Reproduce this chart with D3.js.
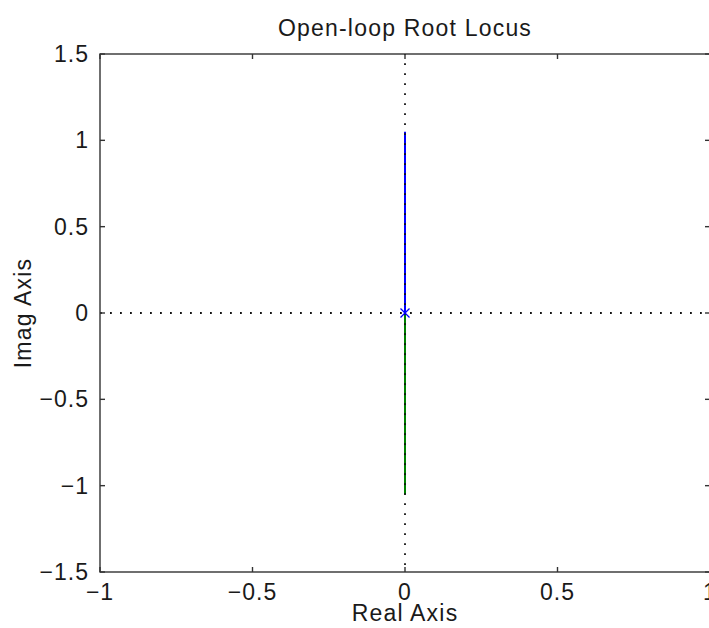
<!DOCTYPE html>
<html>
<head>
<meta charset="utf-8">
<script src="https://cdn.jsdelivr.net/npm/d3@7"></script>
<style>
  html, body { margin: 0; padding: 0; background: #fff; }
  svg text { font-family: "Liberation Sans", Arial, sans-serif; fill: #1a1a1a; }
</style>
</head>
<body>
<svg id="chart" width="709" height="628"></svg>
<script>
// Root locus branches (real, imag) for the open-loop system
const branchUpper = [[0, 0], [0, 0.25], [0, 0.5], [0, 0.75], [0, 1.05]];
const branchLower = [[0, 0], [0, -0.25], [0, -0.5], [0, -0.75], [0, -1.05]];
const poles = [[0, 0]];
const xTicks = [-1, -0.5, 0, 0.5, 1];
const yTicks = [-1.5, -1, -0.5, 0, 0.5, 1, 1.5];
const xDomain = [-1, 1];
const yDomain = [-1.5, 1.5];

const svg = d3.select("#chart");
const margin = { left: 100, top: 54, right: -1, bottom: 56 };
const W = 709, H = 628;
const x = d3.scaleLinear().domain(xDomain).range([margin.left, W - margin.right]);
const y = d3.scaleLinear().domain(yDomain).range([H - margin.bottom, margin.top]);

const fmt = v => (v < 0 ? "\u2212" : "") + String(Math.abs(v));
const FS = 23;

// Dotted axis through the origin (horizontal)
svg.append("line")
  .attr("x1", x(xDomain[0])).attr("x2", x(xDomain[1]))
  .attr("y1", y(0)).attr("y2", y(0))
  .attr("stroke", "#111").attr("stroke-width", 1.8)
  .attr("stroke-dasharray", "1.8,8.2");

// Locus branches
const line = d3.line().x(d => x(d[0])).y(d => y(d[1]));
svg.append("path").datum(branchUpper).attr("d", line)
  .attr("fill", "none").attr("stroke", "#0000ff").attr("stroke-width", 2);
svg.append("path").datum(branchLower).attr("d", line)
  .attr("fill", "none").attr("stroke", "#008000").attr("stroke-width", 2);

// Dotted axis through the origin (vertical), drawn over the branches
svg.append("line")
  .attr("x1", x(0)).attr("x2", x(0))
  .attr("y1", y(yDomain[0])).attr("y2", y(yDomain[1]))
  .attr("stroke", "#111").attr("stroke-width", 1.8)
  .attr("stroke-dasharray", "1.8,8.2")
  .attr("stroke-dashoffset", 3);

// Open-loop poles
const s = 4.5;
poles.forEach(p => {
  const cx = x(p[0]), cy = y(p[1]);
  svg.append("path")
    .attr("d", `M${cx - s},${cy - s}L${cx + s},${cy + s}M${cx - s},${cy + s}L${cx + s},${cy - s}`)
    .attr("stroke", "#0000ff").attr("stroke-width", 1.3).attr("fill", "none");
});

// Axes frame with inward ticks
const x0 = x(xDomain[0]), x1 = x(xDomain[1]), y0 = y(yDomain[0]), y1 = y(yDomain[1]);
const frame = svg.append("g").attr("stroke", "#333").attr("stroke-width", 1.4).attr("fill", "none");
frame.append("rect").attr("x", x0).attr("y", y1).attr("width", x1 - x0).attr("height", y0 - y1);

const tl = 5;
xTicks.forEach(t => {
  frame.append("line").attr("x1", x(t)).attr("x2", x(t)).attr("y1", y0).attr("y2", y0 - tl);
  frame.append("line").attr("x1", x(t)).attr("x2", x(t)).attr("y1", y1).attr("y2", y1 + tl);
});
yTicks.forEach(t => {
  frame.append("line").attr("x1", x0).attr("x2", x0 + tl).attr("y1", y(t)).attr("y2", y(t));
  frame.append("line").attr("x1", x1).attr("x2", x1 - tl).attr("y1", y(t)).attr("y2", y(t));
});

// Tick labels
svg.append("g").selectAll("text").data(xTicks).join("text")
  .attr("x", d => x(d)).attr("y", y0 + 28)
  .attr("text-anchor", "middle").attr("font-size", FS)
  .attr("letter-spacing", 1)
  .text(fmt);
svg.append("g").selectAll("text").data(yTicks).join("text")
  .attr("x", x0 - 11).attr("y", d => y(d) + 8)
  .attr("text-anchor", "end").attr("font-size", FS)
  .attr("letter-spacing", 1)
  .text(fmt);

// Titles
svg.append("text").attr("x", x(0)).attr("y", 36)
  .attr("text-anchor", "middle").attr("font-size", FS)
  .attr("letter-spacing", 1.2).text("Open-loop Root Locus");
svg.append("text").attr("x", x(0)).attr("y", 621)
  .attr("text-anchor", "middle").attr("font-size", FS)
  .attr("letter-spacing", 1.2).text("Real Axis");
svg.append("text")
  .attr("transform", `translate(31,${y(0)}) rotate(-90)`)
  .attr("text-anchor", "middle").attr("font-size", FS)
  .attr("letter-spacing", 1.2).text("Imag Axis");
</script>
</body>
</html>
